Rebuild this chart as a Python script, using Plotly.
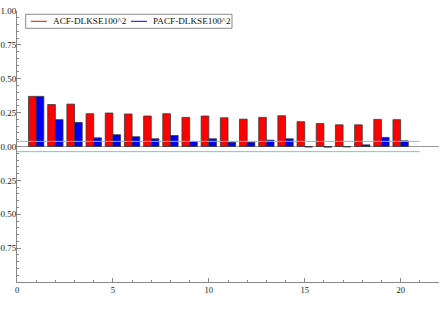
import plotly.graph_objects as go

lags = list(range(1, 21))
acf = [0.370, 0.310, 0.313, 0.242, 0.247, 0.240, 0.225, 0.242, 0.215, 0.225,
       0.212, 0.202, 0.215, 0.227, 0.183, 0.170, 0.160, 0.160, 0.200, 0.198]
pacf = [0.370, 0.198, 0.178, 0.064, 0.087, 0.072, 0.057, 0.081, 0.037, 0.057,
        0.032, 0.032, 0.047, 0.057, -0.004, -0.005, -0.003, 0.012, 0.067, 0.042]
conf = 0.038
conf_x = [0, 21]
y_ticks = [-0.75, -0.5, -0.25, 0.0, 0.25, 0.5, 0.75, 1.0]
x_ticks = [0, 5, 10, 15, 20]
series_names = ["ACF-DLKSE100^2", "PACF-DLKSE100^2"]
series_colors = ["#FF0000", "#0000F0"]

FONT = "Liberation Serif"
edge = "#3a3a3a"

W, H = 444, 309
ML, MR, MT, MB = 17, 5, 11, 27
PW, PH = W - ML - MR, H - MT - MB


def px(x):
    return (x - ML) / PW


def py(y):
    return 1 - (y - MT) / PH


fig = go.Figure()
fig.add_trace(go.Bar(x=lags, y=acf, width=0.4, offset=-0.4, name=series_names[0],
                     marker=dict(color=series_colors[0], line=dict(color=edge, width=0.8)),
                     showlegend=False))
fig.add_trace(go.Bar(x=lags, y=pacf, width=0.4, offset=0.0, name=series_names[1],
                     marker=dict(color=series_colors[1], line=dict(color=edge, width=0.8)),
                     showlegend=False))
for c in (conf, -conf):
    fig.add_trace(go.Scatter(x=conf_x, y=[c, c], mode="lines",
                             line=dict(color="rgb(125,195,200)", width=1),
                             showlegend=False, hoverinfo="skip"))

# legend box (drawn manually to match the compact original)
shapes = [dict(type="rect", xref="paper", yref="paper",
               x0=px(25.7), x1=px(232), y0=py(28.3), y1=py(14.3),
               line=dict(color="#8a8a8a", width=1), fillcolor="white", layer="above")]
annotations = []
ly = py(21.3)
for (lx0, lx1, tx), name, col in zip([(31, 47, 50.5), (131, 147, 151)], series_names,
                                    ["#FF0000", "#0000FF"]):
    shapes.append(dict(type="line", xref="paper", yref="paper", x0=px(lx0), x1=px(lx1),
                       y0=ly, y1=ly, line=dict(color=col, width=1), layer="above"))
    annotations.append(dict(xref="paper", yref="paper", x=px(tx), y=ly, text=name,
                            showarrow=False, xanchor="left", yanchor="middle",
                            font=dict(family=FONT, size=9.2, color="#111")))

fig.update_layout(
    width=W, height=H,
    margin=dict(l=ML, r=MR, t=MT, b=MB),
    paper_bgcolor="white", plot_bgcolor="white",
    font=dict(family=FONT, size=9, color="#222"),
    barmode="overlay",
    showlegend=False,
    shapes=shapes, annotations=annotations,
    xaxis=dict(range=[0, 22], showgrid=False, zeroline=False, automargin=False,
               showline=True, linecolor="#888", linewidth=1,
               tickvals=x_ticks, ticks="inside", ticklen=4, tickcolor="#888",
               minor=dict(dtick=1, tick0=0, ticks="inside", ticklen=2, tickcolor="#888"),
               tickfont=dict(family=FONT, size=8.5, color="#222")),
    yaxis=dict(range=[-1, 1], showgrid=False, automargin=False,
               zeroline=True, zerolinecolor="#999", zerolinewidth=1,
               showline=True, linecolor="#888", linewidth=1,
               tickvals=y_ticks, tickformat=".2f", ticks="inside", ticklen=4, tickcolor="#888",
               minor=dict(dtick=0.05, tick0=0, ticks="inside", ticklen=2, tickcolor="#888"),
               tickfont=dict(family=FONT, size=9, color="#222"),
               ticklabelstandoff=-2),
)

fig.write_html("out.html")
